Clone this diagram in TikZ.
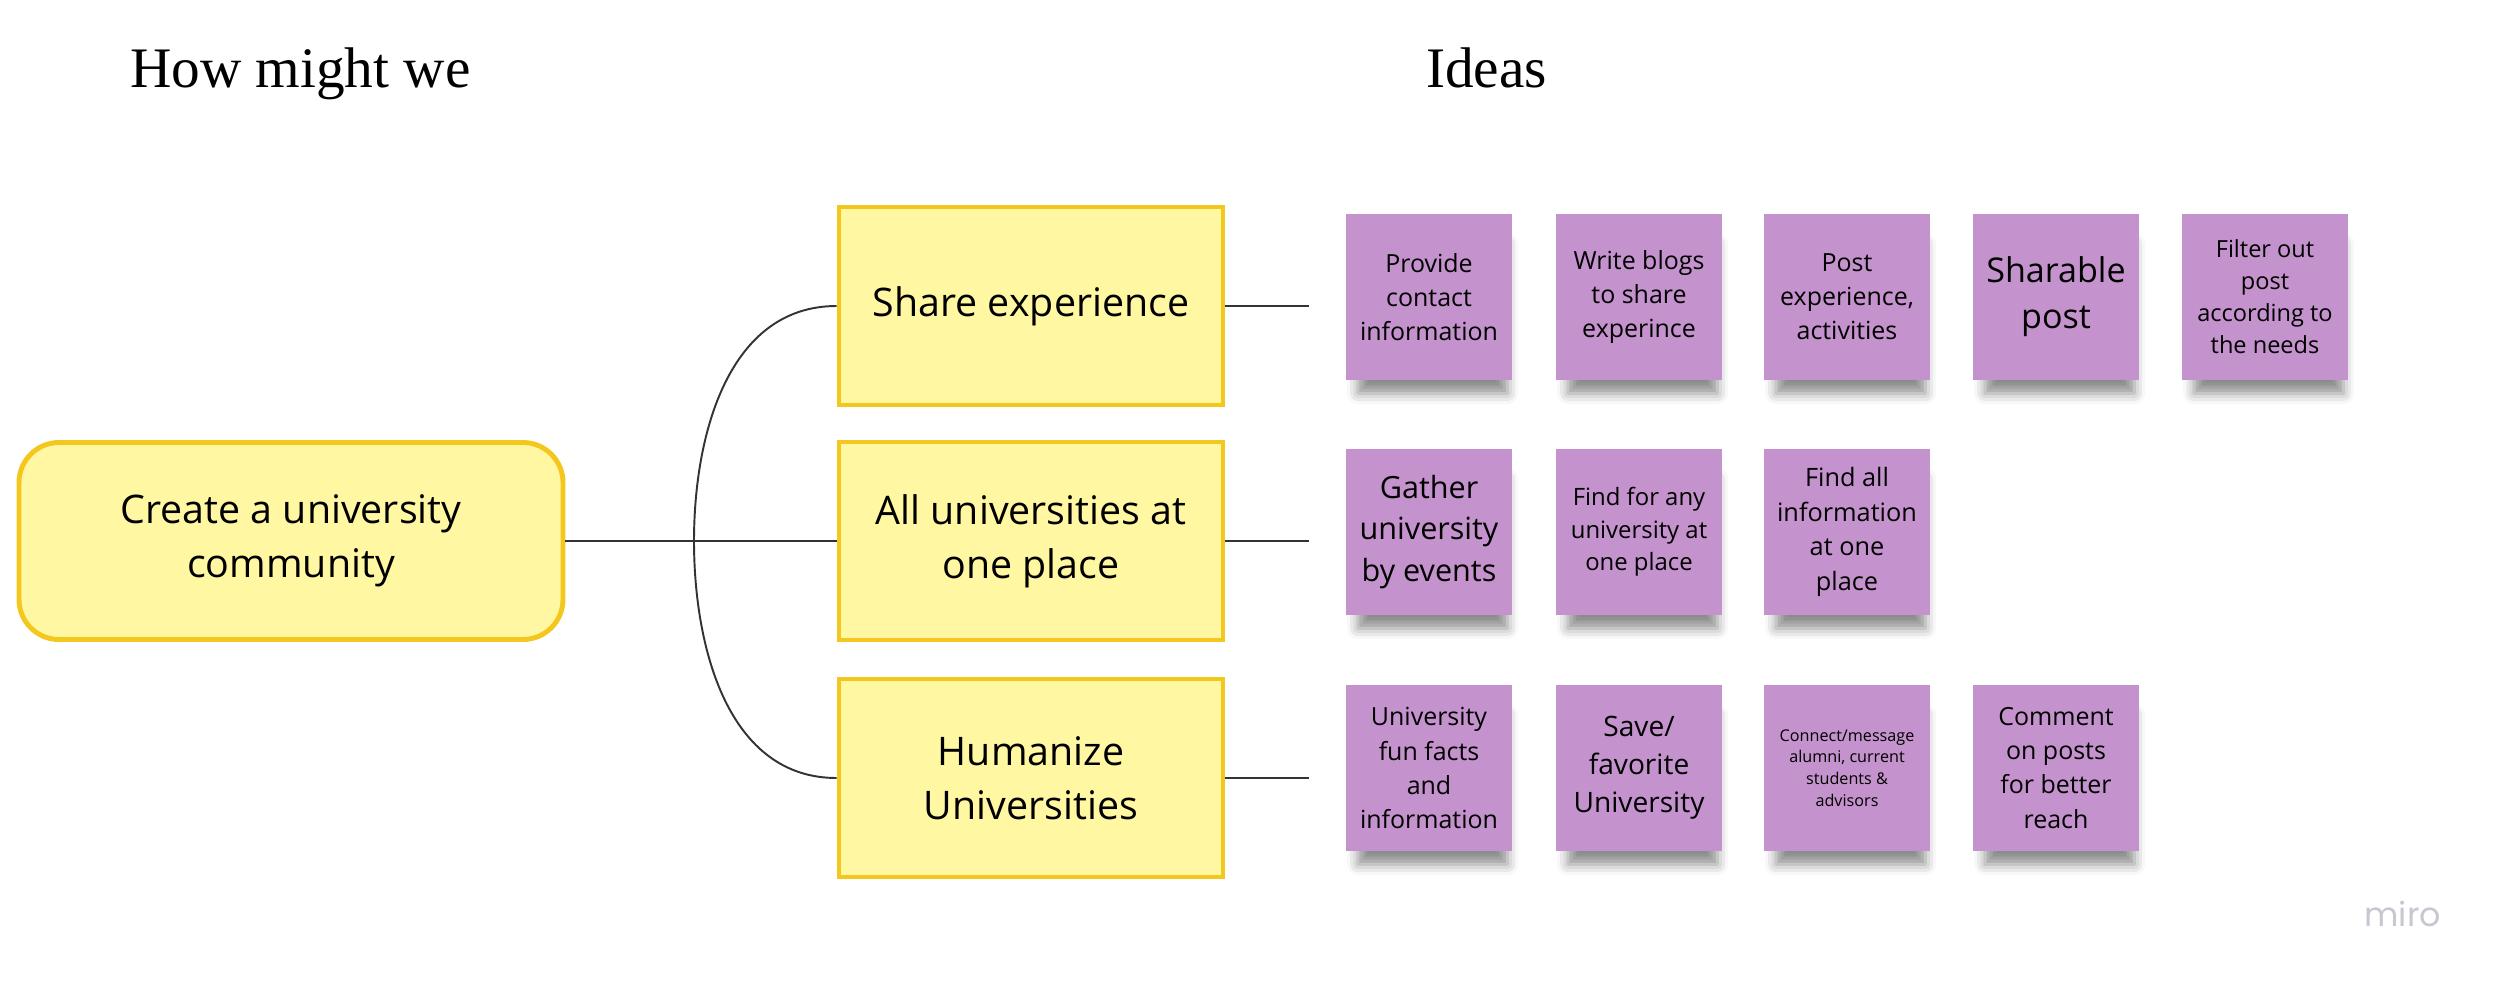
\documentclass[tikz,border=0pt]{standalone}
\usepackage{fontspec}
\setmainfont{Open Sans}
\newfontfamily\titlefont{Liberation Serif}
\newfontfamily\logofont{Poppins}
\usepackage{xcolor}
\usepackage{tikz}
\usetikzlibrary{shadows.blur}
\definecolor{boxyellow}{HTML}{FFF7A1}
\definecolor{ruleyellow}{HTML}{F4C71E}
\definecolor{notepurple}{HTML}{C492CC}
\definecolor{linkgray}{HTML}{333333}
\definecolor{logogray}{HTML}{C6C7D0}
\newcommand{\fs}[2]{\fontsize{#1pt}{#2pt}\selectfont}

\begin{document}
\begin{tikzpicture}[line width=0.6pt,
  root/.style={draw=ruleyellow, fill=boxyellow, line width=1.4pt, rounded corners=0.4cm,
    minimum width=5.44cm, minimum height=1.97cm, align=center, font=\fs{11.2}{15.4}},
  hmw/.style={draw=ruleyellow, fill=boxyellow, line width=1.4pt,
    minimum width=3.84cm, minimum height=1.98cm, align=center, font=\fs{11.2}{15.4}},
  note/.style={fill=notepurple, minimum width=1.66cm, minimum height=1.66cm, inner sep=0pt,
    align=center, font=\fs{7.1}{9.7},
    blur shadow={shadow xshift=0.04cm, shadow yshift=-0.24cm, shadow scale=0.9,
      shadow blur radius=0.12cm, shadow opacity=45}},
  link/.style={draw=linkgray, line width=0.55pt}]

\useasboundingbox (0,0) rectangle (25,-9.84);

% ---------------- headings -------------------------------------------------
\node[anchor=base west, inner sep=0pt, font=\titlefont\fs{16.3}{18}] (hhead) at (1.29,-0.87) {How might we};
\node[anchor=base west, inner sep=0pt, font=\titlefont\fs{16.3}{18}] (ihead) at (14.25,-0.87) {Ideas};

% ---------------- mind map --------------------------------------------------
\node[root] (root) at (2.91,-5.41) {Create a university\\community};
\node[hmw] (share) at (10.31,-3.06) {Share experience};
\node[hmw] (allin) at (10.31,-5.41) {All universities at\\one place};
\node[hmw] (human) at (10.31,-7.78) {Humanize\\Universities};

\coordinate (fork) at (6.94,-5.41);
\draw[link] (root.east) -- (fork) to[out=90, in=180] (share.west);
\draw[link] (root.east) -- (allin.west);
\draw[link] (fork) to[out=-90, in=180] (human.west);

% free ends towards the idea rows
\coordinate (ends) at (13.09,-3.06);
\coordinate (enda) at (13.09,-5.41);
\coordinate (endh) at (13.09,-7.78);
\draw[link] (share.east) -- (ends);
\draw[link] (allin.east) -- (enda);
\draw[link] (human.east) -- (endh);

% ---------------- ideas: row 1 ----------------------------------------------
\node[note] (s1) at (14.29,-2.97) {Provide\\contact\\information};
\node[note] (s2) at (16.39,-2.97) {Write blogs\\to share\\experince};
\node[note] (s3) at (18.47,-2.97) {Post\\experience,\\activities};
\node[note, font=\fs{9.7}{13.1}] (s4) at (20.56,-2.97) {Sharable\\post};
\node[note, font=\fs{6.7}{9.1}] (s5) at (22.65,-2.97) {Filter out\\post\\according to\\the needs};

% ---------------- ideas: row 2 ----------------------------------------------
\node[note, font=\fs{8.7}{11.8}] (a1) at (14.29,-5.32) {Gather\\university\\by events};
\node[note, font=\fs{6.8}{9.3}] (a2) at (16.39,-5.32) {Find for any\\university at\\one place};
\node[note, font=\fs{7.2}{9.8}] (a3) at (18.47,-5.32) {Find all\\information\\at one\\place};

% ---------------- ideas: row 3 ----------------------------------------------
\node[note] (h1) at (14.29,-7.68) {University\\fun facts\\and\\information};
\node[note, font=\fs{8.0}{10.8}] (h2) at (16.39,-7.68) {Save/\\favorite\\University};
\node[note, font=\fs{4.6}{6.2}] (h3) at (18.47,-7.68) {Connect/message\\alumni, current\\students \&\\advisors};
\node[note] (h4) at (20.56,-7.68) {Comment\\on posts\\for better\\reach};

% ---------------- watermark -------------------------------------------------
\node[anchor=east, inner sep=0pt, text=logogray, font=\logofont\fs{9.5}{11}] (logo) at (24.42,-9.14) {miro};

\end{tikzpicture}
\end{document}
